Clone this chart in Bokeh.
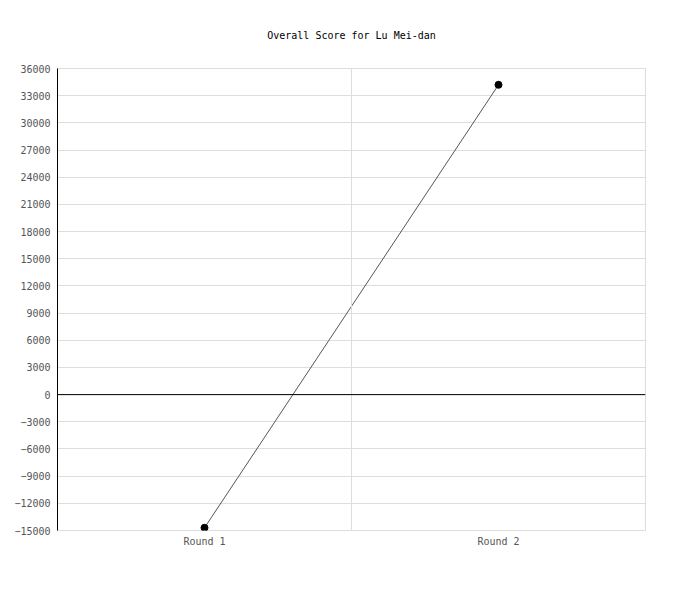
from bokeh.plotting import figure
from bokeh.models import FactorRange, Range1d, FixedTicker, Span
from bokeh.embed import file_html
from bokeh.resources import INLINE

rounds = ["Round 1", "Round 2"]
scores = [-14700, 34200]
y_ticks = list(range(-15000, 36001, 3000))

FONT = "DejaVu Sans Mono"

p = figure(width=684, height=584, x_range=FactorRange(*rounds, range_padding=0),
           y_range=Range1d(-15000, 36000), output_backend="svg", toolbar_location=None,
           title="Overall Score for Lu Mei-dan")
p.min_border_left = 57
p.min_border_right = 39
p.min_border_top = 68
p.min_border_bottom = 54

p.title.text_font = FONT
p.title.text_font_size = "10px"
p.title.text_font_style = "normal"
p.title.align = "center"
p.title.text_color = "#000000"
p.title.standoff = 55

p.outline_line_color = "#dddddd"
p.background_fill_color = "white"
p.border_fill_color = "white"

p.yaxis.ticker = FixedTicker(ticks=y_ticks)
p.yaxis.axis_line_color = "#000000"
p.yaxis.major_tick_line_color = None
p.yaxis.minor_tick_line_color = None
p.yaxis.major_tick_out = 0
p.yaxis.major_tick_in = 0
p.yaxis.major_label_text_font = FONT
p.yaxis.major_label_text_font_size = "10px"
p.yaxis.major_label_text_color = "#555555"
p.yaxis.major_label_standoff = 7

p.xaxis.axis_line_color = None
p.xaxis.major_tick_line_color = None
p.xaxis.minor_tick_line_color = None
p.xaxis.major_tick_out = 0
p.xaxis.major_tick_in = 0
p.xaxis.major_label_text_font = FONT
p.xaxis.major_label_text_font_size = "10px"
p.xaxis.major_label_text_color = "#555555"
p.xaxis.major_label_standoff = 5

p.ygrid.ticker = FixedTicker(ticks=y_ticks)
p.ygrid.grid_line_color = "#dddddd"
p.xgrid.visible = False

p.add_layout(Span(location=1.0, dimension="height", line_color="#dddddd", line_width=1))
p.add_layout(Span(location=0, dimension="width", line_color="#000000", line_width=1))

p.line(rounds, scores, line_color="#555555", line_width=1)
p.scatter(rounds, scores, size=7, fill_color="#000000", line_color="#000000")

open("out.html", "w").write(file_html(p, INLINE))
